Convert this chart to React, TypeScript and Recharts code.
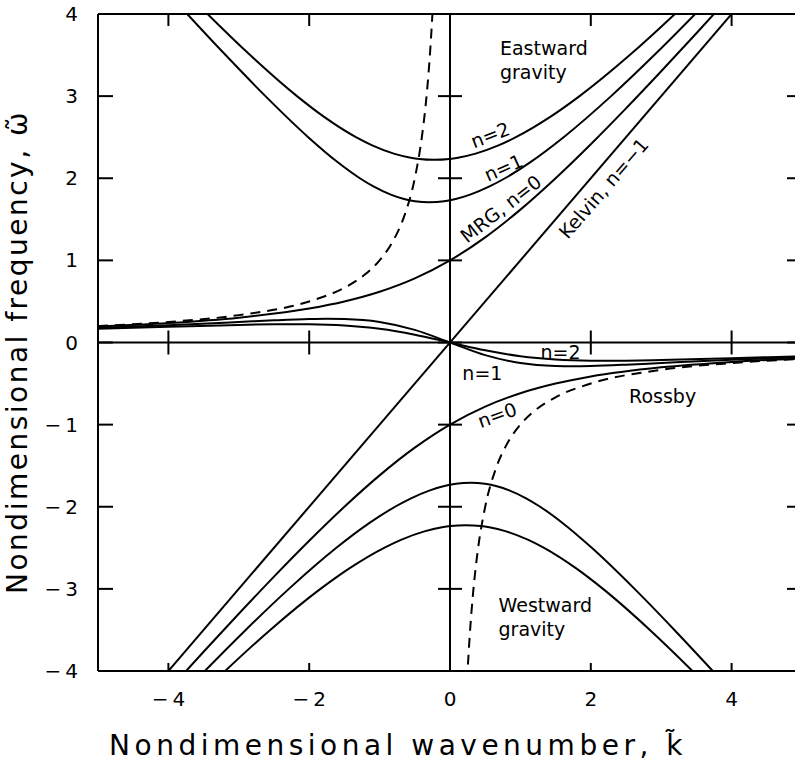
import { LineChart, Line, XAxis, YAxis, ReferenceLine, ReferenceDot } from "recharts"

// Equatorial wave dispersion curves, points read as [k, omega]

// eastward inertia-gravity waves
const eastGravityN1: [number, number][] = [
  [-4.0537, 4.3], [-3.7327, 4], [-3.1876, 3.5], [-2.6218, 3], [-2.0139, 2.5], [-1.6027, 2.2],
  [-1.2808, 2], [-1.0873, 1.9], [-0.841, 1.8], [-0.6654, 1.75], [-0.4978, 1.72], [-0.293, 1.707],
  [-0.0836, 1.72], [0.0939, 1.75], [0.2854, 1.8], [0.561, 1.9], [0.7808, 2], [1.1481, 2.2],
  [1.6139, 2.5], [2.2885, 3], [2.9019, 3.5], [3.4827, 4], [3.8212, 4.3],
]
const eastGravityN2: [number, number][] = [
  [-3.791, 4.3], [-3.444, 4], [-2.8392, 3.5], [-2.1736, 3], [-1.7929, 2.75], [-1.3358, 2.5],
  [-1.1047, 2.4], [-0.7981, 2.3], [-0.5567, 2.25], [-0.4364, 2.235], [-0.2247, 2.2248],
  [-0.011, 2.235], [0.1123, 2.25], [0.3634, 2.3], [0.688, 2.4], [0.9358, 2.5], [1.4292, 2.75],
  [1.8403, 3], [2.5535, 3.5], [3.194, 4], [3.5584, 4.3],
]

// westward inertia-gravity waves
const westGravityN1: [number, number][] = [
  [-3.8212, -4.3], [-3.4827, -4], [-2.9019, -3.5], [-2.2885, -3], [-1.6139, -2.5], [-1.1481, -2.2],
  [-0.7808, -2], [-0.561, -1.9], [-0.2854, -1.8], [-0.0939, -1.75], [0.0836, -1.72], [0.293, -1.707],
  [0.4978, -1.72], [0.6654, -1.75], [0.841, -1.8], [1.0873, -1.9], [1.2808, -2], [1.6027, -2.2],
  [2.0139, -2.5], [2.6218, -3], [3.1876, -3.5], [3.7327, -4], [4.0537, -4.3],
]
const westGravityN2: [number, number][] = [
  [-3.5584, -4.3], [-3.194, -4], [-2.5535, -3.5], [-1.8403, -3], [-1.4292, -2.75], [-0.9358, -2.5],
  [-0.688, -2.4], [-0.3634, -2.3], [-0.1123, -2.25], [0.011, -2.235], [0.2247, -2.2248],
  [0.4364, -2.235], [0.5567, -2.25], [0.7981, -2.3], [1.1047, -2.4], [1.3358, -2.5], [1.7929, -2.75],
  [2.1736, -3], [2.8392, -3.5], [3.444, -4], [3.791, -4.3],
]

// mixed Rossby-gravity, n = 0
const mrgUpper: [number, number][] = [
  [-5, 0.1926], [-4, 0.2361], [-3, 0.3028], [-2, 0.4142], [-1.5, 0.5], [-1, 0.618], [-0.5, 0.7808],
  [0, 1], [0.5, 1.2808], [1, 1.618], [1.5, 2], [2, 2.4142], [2.5, 2.8508], [3, 3.3028],
  [3.5, 3.7656], [4, 4.2361],
]
const mrgLower: [number, number][] = [
  [-4, -4.2361], [-3.5, -3.7656], [-3, -3.3028], [-2.5, -2.8508], [-2, -2.4142], [-1.5, -2],
  [-1, -1.618], [-0.5, -1.2808], [0, -1], [0.5, -0.7808], [1, -0.618], [1.5, -0.5], [2, -0.4142],
  [3, -0.3028], [4, -0.2361], [5, -0.1926],
]

// Kelvin, n = -1
const kelvin: [number, number][] = [[-4.5, -4.5], [4.5, 4.5]]

// Rossby waves
const rossbyN1: [number, number][] = [
  [-5, 0.1786], [-4, 0.2105], [-3, 0.25], [-2.5, 0.2703], [-2, 0.2857], [-1.75, 0.2887],
  [-1.5, 0.2857], [-1, 0.25], [-0.5, 0.1538], [0, 0], [0.5, -0.1538], [1, -0.25], [1.5, -0.2857],
  [1.75, -0.2887], [2, -0.2857], [2.5, -0.2703], [3, -0.25], [4, -0.2105], [5, -0.1786],
]
const rossbyN2: [number, number][] = [
  [-5, 0.1667], [-4, 0.1905], [-3, 0.2143], [-2.5, 0.2222], [-2.25, 0.2236], [-2, 0.2222],
  [-1.5, 0.2069], [-1, 0.1667], [-0.5, 0.0952], [0, 0], [0.5, -0.0952], [1, -0.1667],
  [1.5, -0.2069], [2, -0.2222], [2.25, -0.2236], [2.5, -0.2222], [3, -0.2143], [4, -0.1905],
  [5, -0.1667],
]

// dashed curve
const dashedUpper: [number, number][] = [
  [-5, 0.2], [-4, 0.25], [-3, 0.3333], [-2, 0.5], [-1.5, 0.6667], [-1.2, 0.8333], [-1, 1],
  [-0.8, 1.25], [-0.65, 1.5385], [-0.5, 2], [-0.4, 2.5], [-0.33, 3.0303], [-0.28, 3.5714],
  [-0.25, 4], [-0.22, 4.5455],
]
const dashedLower: [number, number][] = [
  [0.22, -4.5455], [0.25, -4], [0.28, -3.5714], [0.33, -3.0303], [0.4, -2.5], [0.5, -2],
  [0.65, -1.5385], [0.8, -1.25], [1, -1], [1.2, -0.8333], [1.5, -0.6667], [2, -0.5],
  [3, -0.3333], [4, -0.25], [5, -0.2],
]

const xTicks = [-4, -2, 0, 2, 4]
const yTicks = [-4, -3, -2, -1, 0, 1, 2, 3, 4]

// curve labels: text, k, omega, rotation
const curveLabels: [string, number, number, number][] = [
  ["n=2", 0.57, 2.53, -21],
  ["n=1", 0.76, 2.13, -24],
  ["MRG, n=0", 0.72, 1.63, -38],
  ["Kelvin, n=\u22121", 2.18, 1.88, -49],
  ["n=2", 1.57, -0.12, 0],
  ["n=1", 0.46, -0.37, 0],
  ["Rossby", 3.02, -0.65, 0],
  ["n=0", 0.67, -0.88, -20],
]
const regionLabels: [string, string, number, number][] = [
  ["Eastward", "gravity", 0.71, 3.59],
  ["Westward", "gravity", 0.69, -3.2],
]

const W = 820
const H = 772
const MARGIN = { top: 14, right: 18, left: 0, bottom: 0 }
const Y_AXIS_W = 98
const X_AXIS_H = 101
const PLOT_LEFT = MARGIN.left + Y_AXIS_W
const PLOT_RIGHT = W - MARGIN.right
const PLOT_TOP = MARGIN.top
const PLOT_BOTTOM = H - X_AXIS_H
const ZERO_X = (PLOT_LEFT + PLOT_RIGHT) / 2
const ZERO_Y = (PLOT_TOP + PLOT_BOTTOM) / 2
const FONT = "'DejaVu Sans', sans-serif"

const fmt = (v: number) => (v < 0 ? `\u2212\u2009${Math.abs(v)}` : `${v}`)
const toPoints = (pts: [number, number][]) => pts.map(([k, w]) => ({ k, w }))

function YTick(props: any) {
  const { y, payload } = props
  return (
    <g>
      <text x={PLOT_LEFT - 20} y={y} textAnchor="end" dominantBaseline="central" fontSize={20} fontFamily={FONT} fill="#000">
        {fmt(payload.value)}
      </text>
      <line x1={PLOT_LEFT} x2={PLOT_LEFT + 15} y1={y} y2={y} stroke="#000" strokeWidth={2} />
      <line x1={ZERO_X - 12} x2={ZERO_X + 12} y1={y} y2={y} stroke="#000" strokeWidth={2} />
      <line x1={PLOT_RIGHT - 15} x2={PLOT_RIGHT} y1={y} y2={y} stroke="#000" strokeWidth={2} />
    </g>
  )
}

function XTick(props: any) {
  const { x, payload } = props
  return (
    <g>
      <text x={x} y={PLOT_BOTTOM + 28} textAnchor="middle" dominantBaseline="central" fontSize={20} fontFamily={FONT} fill="#000">
        {fmt(payload.value)}
      </text>
      <line x1={x} x2={x} y1={PLOT_BOTTOM} y2={PLOT_BOTTOM - 8} stroke="#000" strokeWidth={2} />
      <line x1={x} x2={x} y1={PLOT_TOP} y2={PLOT_TOP + 12} stroke="#000" strokeWidth={2} />
      {payload.value !== 0 && (
        <line x1={x} x2={x} y1={ZERO_Y - 12} y2={ZERO_Y + 12} stroke="#000" strokeWidth={2} />
      )}
    </g>
  )
}

const curveLabel = (text: string, angle: number) => (p: any) => {
  const vb = p.viewBox || {}
  const cx = vb.x + (vb.width || 0) / 2
  const cy = vb.y + (vb.height || 0) / 2
  return (
    <text
      x={cx}
      y={cy}
      textAnchor="middle"
      dominantBaseline="central"
      fontSize={19}
      fontFamily={FONT}
      fill="#000"
      transform={`rotate(${angle} ${cx} ${cy})`}
    >
      {text}
    </text>
  )
}

const regionLabel = (a: string, b: string) => (p: any) => {
  const vb = p.viewBox || {}
  const cx = vb.x + (vb.width || 0) / 2
  const cy = vb.y + (vb.height || 0) / 2
  return (
    <text x={cx} y={cy} fontSize={19} fontFamily={FONT} fill="#000" dominantBaseline="central">
      <tspan x={cx} dy={0}>{a}</tspan>
      <tspan x={cx} dy={24}>{b}</tspan>
    </text>
  )
}

const series = [
  { name: "eastN1", pts: eastGravityN1, dash: undefined },
  { name: "eastN2", pts: eastGravityN2, dash: undefined },
  { name: "westN1", pts: westGravityN1, dash: undefined },
  { name: "westN2", pts: westGravityN2, dash: undefined },
  { name: "mrgUpper", pts: mrgUpper, dash: undefined },
  { name: "mrgLower", pts: mrgLower, dash: undefined },
  { name: "kelvin", pts: kelvin, dash: undefined },
  { name: "rossbyN1", pts: rossbyN1, dash: undefined },
  { name: "rossbyN2", pts: rossbyN2, dash: undefined },
  { name: "dashedUpper", pts: dashedUpper, dash: "10 7" },
  { name: "dashedLower", pts: dashedLower, dash: "10 7" },
]

export default function App() {
  return (
    <div style={{ position: "absolute", left: 0, top: 0, width: 795, height: 772, overflow: "hidden", background: "#fff" }}>
      <LineChart width={W} height={H} margin={MARGIN} style={{ fontFamily: FONT }}>
        <XAxis
          type="number"
          dataKey="k"
          domain={[-5, 5]}
          ticks={xTicks}
          interval={0}
          allowDataOverflow
          height={X_AXIS_H}
          tickLine={false}
          axisLine={{ stroke: "#000", strokeWidth: 2 }}
          tick={<XTick />}
          label={() => (
            <text x={398} y={755} textAnchor="middle" fontSize={28} letterSpacing={4.5} fontFamily={FONT} fill="#000">
              Nondimensional wavenumber, k{"\u0303"}
            </text>
          )}
        />
        <YAxis
          type="number"
          dataKey="w"
          domain={[-4, 4]}
          ticks={yTicks}
          interval={0}
          allowDataOverflow
          width={Y_AXIS_W}
          tickLine={false}
          axisLine={{ stroke: "#000", strokeWidth: 2 }}
          tick={<YTick />}
          label={() => (
            <text
              x={17}
              y={352}
              textAnchor="middle"
              dominantBaseline="central"
              fontSize={28}
              letterSpacing={2.5}
              fontFamily={FONT}
              fill="#000"
              transform="rotate(-90 17 352)"
            >
              Nondimensional frequency, {"\u03c9\u0303"}
            </text>
          )}
        />
        <ReferenceLine y={4} stroke="#000" strokeWidth={2} />
        <ReferenceLine x={5} stroke="#000" strokeWidth={2} />
        <ReferenceLine y={0} stroke="#000" strokeWidth={2} />
        <ReferenceLine x={0} stroke="#000" strokeWidth={2} />
        {series.map((s) => (
          <Line
            key={s.name}
            data={toPoints(s.pts)}
            dataKey="w"
            type="monotone"
            stroke="#000"
            strokeWidth={2}
            strokeDasharray={s.dash}
            dot={false}
            activeDot={false}
            isAnimationActive={false}
          />
        ))}
        {curveLabels.map(([text, k, w, angle], i) => (
          <ReferenceDot key={`c${i}`} x={k} y={w} r={0} fill="none" stroke="none" label={curveLabel(text, angle)} />
        ))}
        {regionLabels.map(([a, b, k, w], i) => (
          <ReferenceDot key={`r${i}`} x={k} y={w} r={0} fill="none" stroke="none" label={regionLabel(a, b)} />
        ))}
      </LineChart>
    </div>
  )
}
